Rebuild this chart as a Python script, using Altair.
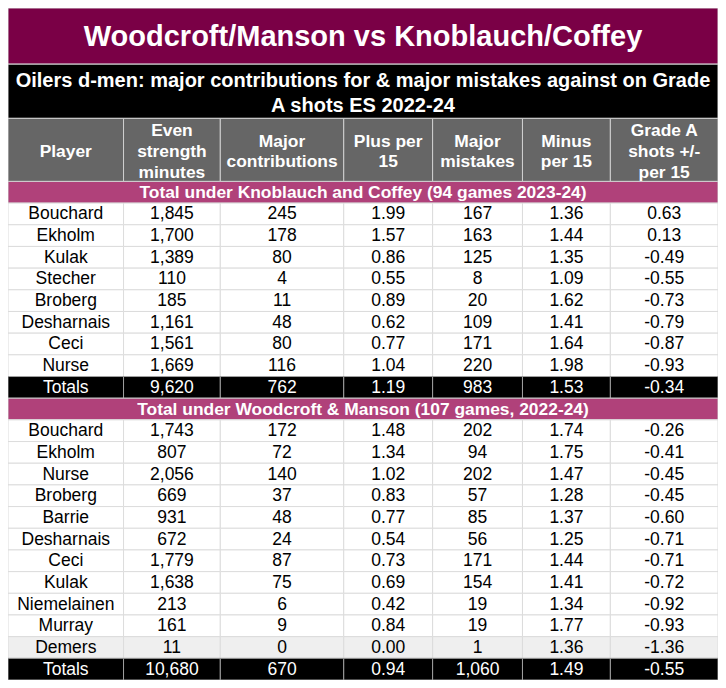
import altair as alt
import pandas as pd

# ---------------- data ----------------
title = "Woodcroft/Manson vs Knoblauch/Coffey"
subtitle = "Oilers d-men: major contributions for & major mistakes against on Grade\nA shots ES 2022-24"
headers = ["Player", "Even\nstrength\nminutes", "Major\ncontributions", "Plus per\n15",
           "Major\nmistakes", "Minus\nper 15", "Grade A\nshots +/-\nper 15"]

section_kc = "Total under Knoblauch and Coffey (94 games 2023-24)"
kc_players = ["Bouchard", "Ekholm", "Kulak", "Stecher", "Broberg", "Desharnais", "Ceci", "Nurse"]
kc_minutes = [1845, 1700, 1389, 110, 185, 1161, 1561, 1669]
kc_contrib = [245, 178, 80, 4, 11, 48, 80, 116]
kc_plus = [1.99, 1.57, 0.86, 0.55, 0.89, 0.62, 0.77, 1.04]
kc_mistakes = [167, 163, 125, 8, 20, 109, 171, 220]
kc_minus = [1.36, 1.44, 1.35, 1.09, 1.62, 1.41, 1.64, 1.98]
kc_net = [0.63, 0.13, -0.49, -0.55, -0.73, -0.79, -0.87, -0.93]
kc_totals = ["Totals", 9620, 762, 1.19, 983, 1.53, -0.34]

section_wm = "Total under Woodcroft & Manson (107 games, 2022-24)"
wm_players = ["Bouchard", "Ekholm", "Nurse", "Broberg", "Barrie", "Desharnais", "Ceci", "Kulak",
              "Niemelainen", "Murray", "Demers"]
wm_minutes = [1743, 807, 2056, 669, 931, 672, 1779, 1638, 213, 161, 11]
wm_contrib = [172, 72, 140, 37, 48, 24, 87, 75, 6, 9, 0]
wm_plus = [1.48, 1.34, 1.02, 0.83, 0.77, 0.54, 0.73, 0.69, 0.42, 0.84, 0.00]
wm_mistakes = [202, 94, 202, 57, 85, 56, 171, 154, 19, 19, 1]
wm_minus = [1.74, 1.75, 1.47, 1.28, 1.37, 1.25, 1.44, 1.41, 1.34, 1.77, 1.36]
wm_net = [-0.26, -0.41, -0.45, -0.45, -0.60, -0.71, -0.71, -0.72, -0.92, -0.93, -1.36]
wm_totals = ["Totals", 10680, 670, 0.94, 1060, 1.49, -0.55]
highlighted_player = "Demers"

# ---------------- layout (reference pixel units) ----------------
COL_EDGES = [2, 119, 217, 342, 432, 523, 612, 721]
TITLE_BAND = (0, 57)
SUB_BAND = (57, 112)
HEAD_BAND = (112, 176)
ROW_TOP = 176
ROW_H = 22
SUB_LH = 25
HEAD_LH = 21

FILL = {"title": "#7a0046", "subtitle": "#000000", "header": "#666666", "section": "#b0417a",
        "data": "#ffffff", "hl": "#efefef", "totals": "#000000"}
STROKE = {"title": "#d8d8d8", "subtitle": "#d8d8d8", "header": "#d0d0d0", "section": "#d0d0d0",
          "data": "#dcdcdc", "hl": "#dcdcdc", "totals": "#a0a0a0"}


def fmt_row(vals):
    name, mins, con, plus, mis, minus, net = vals
    return [name, f"{mins:,}", f"{con:,}", f"{plus:.2f}", f"{mis:,}", f"{minus:.2f}", f"{net:.2f}"]


def first_line_y(center, txt, lh):
    n = txt.count("\n") + 1
    return center - (n - 1) * lh / 2


rows = [("section", section_kc)]
for r in zip(kc_players, kc_minutes, kc_contrib, kc_plus, kc_mistakes, kc_minus, kc_net):
    rows.append(("data", fmt_row(r)))
rows.append(("totals", fmt_row(kc_totals)))
rows.append(("section", section_wm))
for r in zip(wm_players, wm_minutes, wm_contrib, wm_plus, wm_mistakes, wm_minus, wm_net):
    rows.append(("hl" if r[0] == highlighted_player else "data", fmt_row(r)))
rows.append(("totals", fmt_row(wm_totals)))

cells = []
texts = []
x0, x1 = COL_EDGES[0], COL_EDGES[-1]
xm = (x0 + x1) / 2

cells.append(dict(x=x0, x2=x1, y=TITLE_BAND[0], y2=TITLE_BAND[1], fill=FILL["title"], stroke=STROKE["title"]))
texts.append(dict(x=xm, y=sum(TITLE_BAND) / 2 + 1, text=title, style="title"))
cells.append(dict(x=x0, x2=x1, y=SUB_BAND[0], y2=SUB_BAND[1], fill=FILL["subtitle"], stroke=STROKE["subtitle"]))
texts.append(dict(x=xm, y=first_line_y(sum(SUB_BAND) / 2 + 2, subtitle, SUB_LH), text=subtitle, style="subtitle"))

for i, h in enumerate(headers):
    a, b = COL_EDGES[i], COL_EDGES[i + 1]
    cells.append(dict(x=a, x2=b, y=HEAD_BAND[0], y2=HEAD_BAND[1], fill=FILL["header"], stroke=STROKE["header"]))
    texts.append(dict(x=(a + b) / 2, y=first_line_y(sum(HEAD_BAND) / 2 + 2, h, HEAD_LH), text=h, style="header"))

for k, (kind, content) in enumerate(rows):
    top = ROW_TOP + k * ROW_H
    bot = top + ROW_H
    yc = (top + bot) / 2 + 0.5
    if kind == "section":
        cells.append(dict(x=x0, x2=x1, y=top, y2=bot, fill=FILL["section"], stroke=STROKE["section"]))
        texts.append(dict(x=xm, y=yc, text=content, style="section"))
    else:
        for i, v in enumerate(content):
            a, b = COL_EDGES[i], COL_EDGES[i + 1]
            cells.append(dict(x=a, x2=b, y=top, y2=bot, fill=FILL[kind], stroke=STROKE[kind]))
            texts.append(dict(x=(a + b) / 2, y=yc, text=v,
                              style="totals" if kind == "totals" else "data"))

cells_df = pd.DataFrame(cells)
texts_df = pd.DataFrame(texts)

W, H = 710, 672
Y_TOTAL = ROW_TOP + len(rows) * ROW_H
KY = H / Y_TOTAL
xs = alt.Scale(domain=[x0, x1], range=[0, W], nice=False, zero=False)
ys = alt.Scale(domain=[0, Y_TOTAL], range=[0, H], nice=False, zero=False)

rects = alt.Chart(cells_df).mark_rect(strokeWidth=1).encode(
    x=alt.X("x:Q", scale=xs, axis=None),
    x2="x2:Q",
    y=alt.Y("y:Q", scale=ys, axis=None),
    y2="y2:Q",
    fill=alt.Fill("fill:N", scale=None),
    stroke=alt.Stroke("stroke:N", scale=None),
)

FONT = "Liberation Sans"


def text_layer(style, size, weight, color, lh=None):
    kw = dict(font=FONT, fontSize=size, fontWeight=weight, color=color,
              align="center", baseline="middle", lineBreak="\n")
    if lh:
        kw["lineHeight"] = lh * KY
    return alt.Chart(texts_df).transform_filter(alt.datum.style == style).mark_text(**kw).encode(
        x=alt.X("x:Q", scale=xs, axis=None),
        y=alt.Y("y:Q", scale=ys, axis=None),
        text="text:N",
    )


chart = alt.layer(
    rects,
    text_layer("title", 29, "bold", "#ffffff"),
    text_layer("subtitle", 20, "bold", "#ffffff", SUB_LH),
    text_layer("header", 17.4, "bold", "#ffffff", HEAD_LH),
    text_layer("section", 17.4, "bold", "#ffffff"),
    text_layer("data", 17.5, "normal", "#000000"),
    text_layer("totals", 17.5, "normal", "#ffffff"),
).properties(width=W, height=H, padding=0, autosize="none").configure_view(stroke=None)

chart.save("out.html", embed_options={"renderer": "svg", "actions": False})
